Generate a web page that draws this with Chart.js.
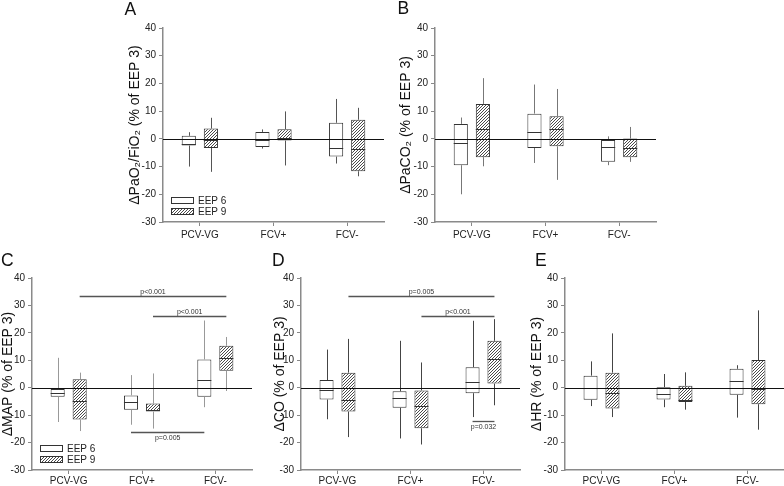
<!DOCTYPE html>
<html>
<head>
<meta charset="utf-8">
<script src="https://cdn.jsdelivr.net/npm/chart.js@4/dist/chart.umd.min.js"></script>
<style>
  body { margin: 0; background: #fff; width: 784px; height: 486px; overflow: hidden; position: relative; }
  canvas { position: absolute; }
</style>
</head>
<body>
<canvas id="panelA"></canvas>
<canvas id="panelB"></canvas>
<canvas id="panelC"></canvas>
<canvas id="panelD"></canvas>
<canvas id="panelE"></canvas>
<script>
// categories and series
const categories = ['PCV-VG', 'FCV+', 'FCV-'];
const seriesNames = ['EEP 6', 'EEP 9'];
const yTicks = [-30, -20, -10, 0, 10, 20, 30, 40];

// each entry: [whisker low, q1, median, q3, whisker high], one per category
const paoEep6 = [[-10, -2.4, -1.7, 1.1, 2.4], [-3.5, -2.9, -0.3, 2.5, 3.4], [-8.9, -6.4, -3.3, 5.8, 14.4]];
const paoEep9 = [[-11.9, -3.3, -0.5, 3.7, 7.6], [-9.6, -0.6, 0.2, 3.5, 9.9], [-13.5, -11.7, -3.5, 6.9, 11.2]];

const pacoEep6 = [[-20, -9.5, -1.6, 5.4, 7.7], [-8.7, -3.3, 2.6, 9.1, 19.6], [-9.5, -8.3, -2.9, -0.4, 0.9]];
const pacoEep9 = [[-9.9, -6.6, 3.4, 12.6, 21.9], [-14.8, -2.7, 3.5, 8.2, 18], [-8.3, -6.6, -3.3, 0.1, 4.3]];

const mapEep6 = [[-12.5, -3.3, -2.0, -0.5, 10.9], [-13.5, -8.0, -5.2, -2.8, 4.6], [-7.1, -3.3, 2.7, 10.3, 24.5]];
const mapEep9 = [[-15.8, -11.6, -4.9, 3.1, 5.5], [-14.9, -8.7, -8.0, -5.8, 5.2], [-1.2, 6.2, 10.9, 15.3, 18.5]];

const coEep6 = [[-11.5, -4.3, -1.0, 2.8, 13.9], [-18.5, -7.3, -3.8, -1.3, 17.1], [-10.7, -2.0, 2.0, 7.5, 24.4]];
const coEep9 = [[-18, -8.7, -4.6, 5.5, 17.8], [-20.7, -14.8, -6.8, -1.0, 9.2], [-6.4, 1.5, 10.3, 17.1, 25]];

const hrEep6 = [[-6.7, -4.4, 0, 4.4, 9.6], [-7.1, -4.3, -2.2, 0.2, 5.0], [-10.9, -2.6, 2.3, 6.9, 8.2]];
const hrEep9 = [[-10.7, -7.6, -1.8, 5.5, 19.8], [-8.0, -5.2, -4.5, 0.7, 5.6], [-15.3, -6.0, -0.6, 10.1, 28.2]];

// significance brackets: from/to = [category index, series index]
const mapSig = [
  { from: [0, 1], to: [2, 1], y: 33.5, text: 'p<0.001' },
  { from: [1, 1], to: [2, 1], y: 26, text: 'p<0.001' },
  { from: [1, 0], to: [2, 0], y: -16.3, text: 'p=0.005', below: true }
];
const coSig = [
  { from: [0, 1], to: [2, 1], y: 33.3, text: 'p=0.005' },
  { from: [1, 1], to: [2, 1], y: 26, text: 'p<0.001' },
  { from: [2, 0], to: [2, 1], y: -12.1, text: 'p=0.032', below: true }
];

const FONT = "'Liberation Sans', Arial, sans-serif";
Chart.defaults.font.family = FONT;
Chart.defaults.color = '#222';

// crisp 3px diagonal hatch
function makeHatch() {
  const c = document.createElement('canvas');
  c.width = 3; c.height = 3;
  const g = c.getContext('2d');
  g.fillStyle = '#fff';
  g.fillRect(0, 0, 3, 3);
  g.fillStyle = '#4a4a4a';
  g.fillRect(0, 2, 1, 1);
  g.fillRect(1, 1, 1, 1);
  g.fillRect(2, 0, 1, 1);
  return g.createPattern(c, 'repeat');
}
const hatch = makeHatch();

// whiskers, medians, zero line, brackets, legend, panel letter
const boxExtras = {
  id: 'boxExtras',
  afterDatasetsDraw(chart, args, opts) {
    const { ctx, chartArea, scales: { y } } = chart;
    ctx.save();
    ctx.lineWidth = 1;
    chart.data.datasets.forEach((ds, i) => {
      chart.getDatasetMeta(i).data.forEach((bar, j) => {
        const s = ds.stats[j];
        const x = Math.round(bar.x) + 0.5;
        ctx.strokeStyle = opts.whisker;
        ctx.beginPath();
        ctx.moveTo(x, y.getPixelForValue(s[3]));
        ctx.lineTo(x, y.getPixelForValue(s[4]));
        ctx.moveTo(x, y.getPixelForValue(s[1]));
        ctx.lineTo(x, y.getPixelForValue(s[0]));
        ctx.stroke();
        const my = Math.round(y.getPixelForValue(s[2])) + 0.5;
        ctx.strokeStyle = '#333';
        ctx.beginPath();
        ctx.moveTo(bar.x - bar.width / 2, my);
        ctx.lineTo(bar.x + bar.width / 2, my);
        ctx.stroke();
      });
    });

    const zy = Math.round(y.getPixelForValue(0)) + 0.5;
    ctx.strokeStyle = '#111';
    ctx.beginPath();
    ctx.moveTo(chartArea.left, zy);
    ctx.lineTo(chartArea.right, zy);
    ctx.stroke();

    (opts.sig || []).forEach(b => {
      const x1 = chart.getDatasetMeta(b.from[1]).data[b.from[0]].x;
      const x2 = chart.getDatasetMeta(b.to[1]).data[b.to[0]].x;
      const by = Math.round(y.getPixelForValue(b.y)) + 0.5;
      ctx.strokeStyle = '#555';
      ctx.lineWidth = 1.3;
      ctx.beginPath();
      ctx.moveTo(x1, by);
      ctx.lineTo(x2, by);
      ctx.stroke();
      ctx.fillStyle = '#333';
      ctx.font = '7px ' + FONT;
      ctx.textAlign = 'center';
      ctx.textBaseline = b.below ? 'top' : 'bottom';
      ctx.fillText(b.text, (x1 + x2) / 2, b.below ? by + 2 : by - 0.5);
    });

    if (opts.legend) {
      ctx.lineWidth = 1;
      chart.data.datasets.forEach((ds, i) => {
        const top = Math.round(chartArea.bottom - 25 + i * 10.5);
        const left = chartArea.left + 8;
        ctx.fillStyle = ds.backgroundColor;
        ctx.fillRect(left, top, 22, 6);
        ctx.strokeStyle = '#333';
        ctx.strokeRect(left + 0.5, top + 0.5, 22, 6);
        ctx.fillStyle = '#222';
        ctx.font = '10px ' + FONT;
        ctx.textAlign = 'left';
        ctx.textBaseline = 'middle';
        ctx.fillText(ds.label, chartArea.left + 35, top + 4);
      });
    }

    ctx.fillStyle = '#111';
    ctx.font = '17.5px ' + FONT;
    ctx.textAlign = 'left';
    ctx.textBaseline = 'alphabetic';
    ctx.fillText(opts.letter, chartArea.left + opts.letterDx, chartArea.top + opts.letterDy);
    ctx.restore();
  }
};

const AXIS_W = 45;
const XAXIS_H = 24;
const PAD_TOP = 28;

const panels = [
  { id: 'panelA', letter: 'A', title: 'ΔPaO₂/FiO₂ (% of EEP 3)', eep6: paoEep6, eep9: paoEep9,
    left: 163, top: 28, w: 221, h: 194, titlePad: 8.4, xPad: 3, letterDx: -38.5, letterDy: -13,
    whisker: '#555', legend: true, sig: [] },
  { id: 'panelB', letter: 'B', title: 'ΔPaCO₂ (% of EEP 3)', eep6: pacoEep6, eep9: pacoEep9,
    left: 435, top: 28, w: 221, h: 194, titlePad: 8.1, xPad: 3, letterDx: -37.5, letterDy: -14,
    whisker: '#777', legend: false, sig: [] },
  { id: 'panelC', letter: 'C', title: 'ΔMAP (% of EEP 3)', eep6: mapEep6, eep9: mapEep9,
    left: 32, top: 278, w: 220, h: 192, titlePad: 12.4, xPad: 1, letterDx: -31, letterDy: -12.5,
    whisker: '#999', legend: true, sig: mapSig },
  { id: 'panelD', letter: 'D', title: 'ΔCO (% of EEP 3)', eep6: coEep6, eep9: coEep9,
    left: 301, top: 278, w: 219, h: 192, titlePad: 15.4, xPad: 1, letterDx: -29, letterDy: -12.5,
    whisker: '#444', legend: false, sig: coSig },
  { id: 'panelE', letter: 'E', title: 'ΔHR (% of EEP 3)', eep6: hrEep6, eep9: hrEep9,
    left: 565, top: 278, w: 219, h: 192, titlePad: 8.7, xPad: 1, letterDx: -30, letterDy: -12.5,
    whisker: '#444', legend: false, sig: [] }
];

panels.forEach(p => {
  const canvas = document.getElementById(p.id);
  const cw = AXIS_W + p.w + 2;
  const ch = PAD_TOP + p.h + XAXIS_H;
  canvas.width = cw;
  canvas.height = ch;
  canvas.style.left = (p.left - AXIS_W) + 'px';
  canvas.style.top = (p.top - PAD_TOP) + 'px';
  canvas.style.width = cw + 'px';
  canvas.style.height = ch + 'px';

  new Chart(canvas.getContext('2d'), {
    type: 'bar',
    data: {
      labels: categories,
      datasets: [
        { label: seriesNames[0], stats: p.eep6, data: p.eep6.map(s => [s[1], s[3]]),
          backgroundColor: '#ffffff', borderColor: '#333', borderWidth: 1, borderSkipped: false,
          categoryPercentage: 0.6, barPercentage: 0.64 },
        { label: seriesNames[1], stats: p.eep9, data: p.eep9.map(s => [s[1], s[3]]),
          backgroundColor: hatch, borderColor: '#333', borderWidth: 1, borderSkipped: false,
          categoryPercentage: 0.6, barPercentage: 0.64 }
      ]
    },
    options: {
      responsive: false,
      animation: false,
      devicePixelRatio: 1,
      layout: { padding: { top: PAD_TOP, right: 2, left: 0, bottom: 0 } },
      plugins: {
        legend: { display: false },
        tooltip: { enabled: false },
        boxExtras: { whisker: p.whisker, sig: p.sig, legend: p.legend, letter: p.letter,
          letterDx: p.letterDx, letterDy: p.letterDy }
      },
      scales: {
        x: {
          type: 'category',
          offset: true,
          grid: { offset: false, drawOnChartArea: false, tickLength: 4, tickColor: '#888', lineWidth: 1 },
          border: { display: true, color: '#8a8a8a', width: 1.5 },
          ticks: { font: { size: 10 }, color: '#222', padding: p.xPad, maxRotation: 0 },
          afterFit: s => { s.height = XAXIS_H; }
        },
        y: {
          min: -30,
          max: 40,
          afterBuildTicks: s => { s.ticks = yTicks.map(v => ({ value: v })); },
          grid: { drawOnChartArea: false, tickLength: 4, tickColor: '#888', lineWidth: 1 },
          border: { display: true, color: '#8a8a8a', width: 1.5 },
          ticks: { font: { size: 10 }, color: '#222', padding: 3 },
          title: { display: true, text: p.title, color: '#111', font: { size: 14 }, padding: { top: p.titlePad, bottom: 0 } },
          afterFit: s => { s.width = AXIS_W; }
        }
      }
    },
    plugins: [boxExtras]
  });
});
</script>
</body>
</html>
